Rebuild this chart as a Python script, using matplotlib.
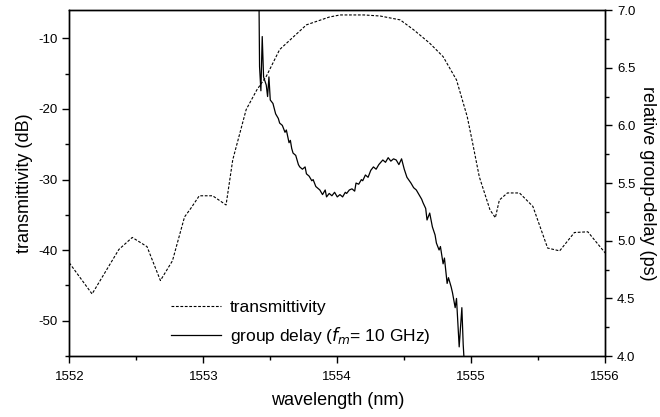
import matplotlib.pyplot as plt
from matplotlib.ticker import MultipleLocator

plt.rcParams['font.family'] = ['Liberation Sans', 'DejaVu Sans']
plt.rcParams['axes.unicode_minus'] = False

# ---------------- transmittivity (dB), left axis ----------------
wl_t = [1552.00, 1552.17, 1552.37, 1552.47, 1552.58, 1552.68, 1552.77, 1552.86,
        1552.91, 1552.97, 1553.07, 1553.17, 1553.22, 1553.32, 1553.40, 1553.47,
        1553.57, 1553.65, 1553.77, 1553.94, 1554.02, 1554.20, 1554.32, 1554.47,
        1554.57, 1554.69, 1554.79, 1554.89, 1554.97, 1555.01, 1555.06, 1555.14,
        1555.18, 1555.21, 1555.27, 1555.36, 1555.46, 1555.57, 1555.66, 1555.77,
        1555.87, 1556.00]
trans = [-41.8, -46.2, -39.9, -38.2, -39.5, -44.3, -41.5, -35.3,
         -34.0, -32.3, -32.3, -33.6, -27.2, -20.1, -17.3, -15.4,
         -11.6, -10.2, -8.1, -7.0, -6.7, -6.7, -6.85, -7.4,
         -8.8, -10.7, -12.6, -15.9, -21.1, -24.8, -29.6, -34.3,
         -35.4, -32.9, -31.9, -31.9, -33.8, -39.7, -40.1, -37.5,
         -37.4, -40.4]

# ---------------- group delay (ps), right axis ----------------
wl_g = [1553.415, 1553.42, 1553.43, 1553.44, 1553.45, 1553.47, 1553.48, 1553.49,
        1553.50, 1553.52, 1553.54, 1553.56, 1553.57, 1553.59, 1553.61, 1553.62,
        1553.64, 1553.65, 1553.66, 1553.67, 1553.69, 1553.71, 1553.72, 1553.74,
        1553.76, 1553.77, 1553.79, 1553.81, 1553.82, 1553.84, 1553.86, 1553.87,
        1553.89, 1553.91, 1553.92, 1553.94, 1553.96, 1553.98, 1554.00, 1554.02,
        1554.04, 1554.06, 1554.07, 1554.09, 1554.11, 1554.13, 1554.14, 1554.16,
        1554.18, 1554.19, 1554.21, 1554.23, 1554.25, 1554.27, 1554.29, 1554.31,
        1554.34, 1554.36, 1554.38, 1554.40, 1554.42, 1554.44, 1554.46, 1554.48,
        1554.50, 1554.52, 1554.55, 1554.57, 1554.59, 1554.61, 1554.63, 1554.64,
        1554.66, 1554.67, 1554.69, 1554.71, 1554.73, 1554.74, 1554.76, 1554.77,
        1554.79, 1554.80, 1554.82, 1554.83, 1554.85, 1554.86, 1554.88, 1554.89,
        1554.91, 1554.93, 1554.94, 1554.95]
gdelay = [7.20, 6.51, 6.30, 6.77, 6.42, 6.35, 6.25, 6.42,
          6.22, 6.19, 6.10, 6.06, 6.02, 6.00, 5.94, 5.96,
          5.85, 5.87, 5.80, 5.76, 5.74, 5.66, 5.64, 5.62,
          5.64, 5.58, 5.56, 5.52, 5.53, 5.47, 5.45, 5.44,
          5.40, 5.44, 5.38, 5.41, 5.39, 5.42, 5.38, 5.40,
          5.38, 5.42, 5.41, 5.44, 5.45, 5.43, 5.50, 5.49,
          5.53, 5.52, 5.57, 5.55, 5.61, 5.64, 5.62, 5.66,
          5.70, 5.68, 5.72, 5.69, 5.71, 5.70, 5.66, 5.71,
          5.62, 5.55, 5.50, 5.46, 5.44, 5.40, 5.36, 5.33,
          5.28, 5.18, 5.24, 5.12, 5.05, 4.98, 4.92, 4.95,
          4.80, 4.85, 4.63, 4.68, 4.60, 4.55, 4.42, 4.50,
          4.08, 4.42, 4.10, 3.90]

fig = plt.figure(figsize=(6.6, 4.17), dpi=100)
ax = fig.add_axes([0.105, 0.146, 0.812, 0.830])
ax2 = ax.twinx()

l1, = ax.plot(wl_t, trans, color='black', lw=0.8, ls=(0, (2.5, 1.5)),
              label='transmittivity')
l2, = ax2.plot(wl_g, gdelay, color='black', lw=0.9,
               label='group delay ($f_m$= 10 GHz)')

ax.set_xlim(1552, 1556)
ax.set_ylim(-55, -6)
ax2.set_ylim(4.0, 7.0)

ax.xaxis.set_major_locator(MultipleLocator(1))
ax.xaxis.set_minor_locator(MultipleLocator(0.5))
ax.yaxis.set_major_locator(MultipleLocator(10))
ax.yaxis.set_minor_locator(MultipleLocator(5))
ax2.yaxis.set_major_locator(MultipleLocator(0.5))
ax2.yaxis.set_minor_locator(MultipleLocator(0.25))

for a in (ax, ax2):
    a.tick_params(which='major', direction='out', length=5, width=1, labelsize=9.5)
    a.tick_params(which='minor', direction='out', length=3, width=1)
    for s in a.spines.values():
        s.set_linewidth(1.0)
ax.tick_params(axis='x', pad=6)

ax.set_xlabel('wavelength (nm)', fontsize=13, labelpad=6)
ax.set_ylabel('transmittivity (dB)', fontsize=13, labelpad=4)
ax2.set_ylabel('relative group-delay (ps)', fontsize=13, rotation=-90, labelpad=15)

ax.legend(handles=[l1, l2], loc='lower left', bbox_to_anchor=(0.16, -0.015),
          frameon=False, fontsize=12.5, handlelength=2.9, handletextpad=0.5,
          labelspacing=0.55)

fig.savefig('out.png', dpi=100)
